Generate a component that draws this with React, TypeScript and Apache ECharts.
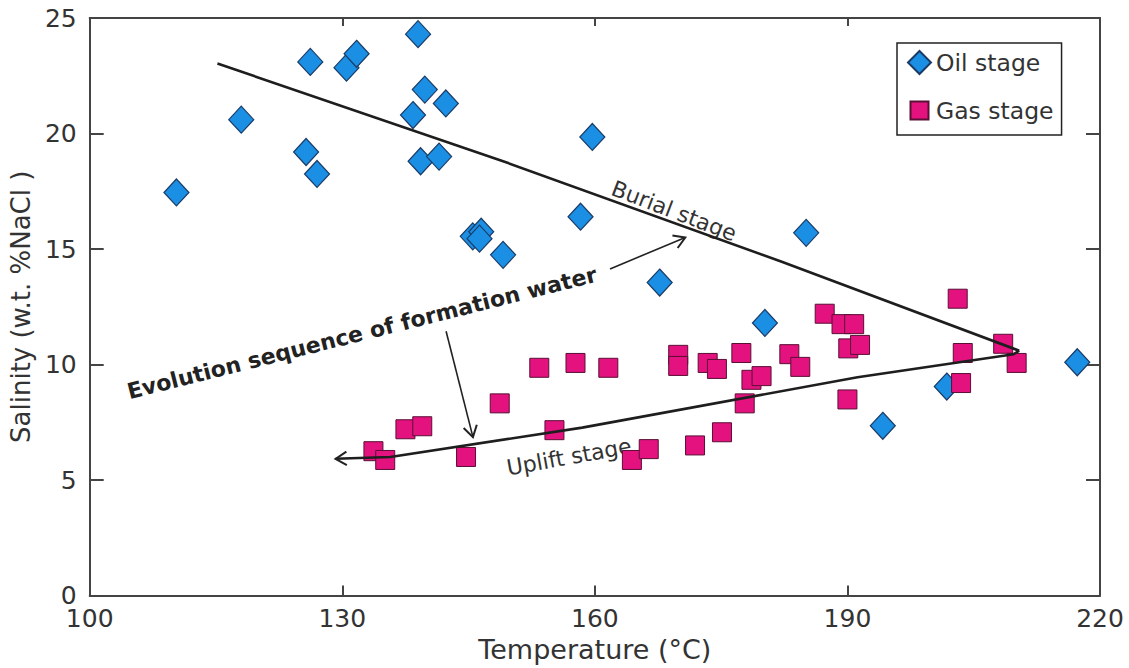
import React, { useEffect, useRef } from "react";
import * as echarts from "echarts";

// ---- data ----
const oilStage: number[][] = [
  [110.3, 17.45], [118.0, 20.6], [126.2, 23.1], [125.7, 19.2], [127.0, 18.25],
  [130.5, 22.85], [131.7, 23.45], [139.0, 24.3], [138.4, 20.8], [139.8, 21.9],
  [142.3, 21.3], [139.3, 18.8], [141.5, 19.0], [159.7, 19.85], [158.3, 16.4],
  [145.5, 15.55], [146.5, 15.75], [146.3, 15.45], [149.1, 14.75], [167.7, 13.55],
  [185.1, 15.7], [180.2, 11.8], [194.2, 7.35], [201.8, 9.05], [217.3, 10.1],
];

const gasStage: number[][] = [
  [133.7, 6.25], [135.1, 5.87], [137.5, 7.2], [139.5, 7.33], [144.7, 6.0],
  [148.7, 8.32], [153.4, 9.86], [155.2, 7.16], [157.7, 10.07], [161.6, 9.86],
  [164.4, 5.87], [166.4, 6.34], [169.9, 10.42], [169.9, 9.94], [171.9, 6.5],
  [173.4, 10.07], [174.5, 9.81], [175.1, 7.07], [177.4, 10.5], [177.8, 8.32],
  [178.6, 9.34], [179.8, 9.5], [183.1, 10.45], [184.4, 9.9], [187.3, 12.2],
  [189.3, 11.75], [190.8, 11.75], [190.1, 10.7], [191.5, 10.85], [190.0, 8.49],
  [203.1, 12.85], [203.7, 10.5], [203.5, 9.2], [208.5, 10.9], [210.1, 10.07],
];

const burialPath: number[][] = [
  [115.17, 23.03], [149.1, 18.8], [182.2, 14.45], [210.4, 10.6],
];
const upliftPath: number[][] = [
  [210.4, 10.6], [209.75, 10.45], [191.2, 9.45], [158.5, 7.27], [135.7, 6.0], [129.2, 5.92],
];
// [fromX, fromY, toX, toY, drawShaft]
const arrows: number[][] = [
  [161.8, 14.14, 170.74, 15.5, 1],
  [142.33, 11.44, 145.52, 6.86, 1],
  [135.7, 6.0, 129.2, 5.92, 0],
];

const xMin = 100, xMax = 220, xStep = 30;
const yMin = 0, yMax = 25, yStep = 5;

const seriesNames = ["Oil stage", "Gas stage"];
const xTitle = "Temperature (°C)";
const yTitle = "Salinity (w.t. %NaCl )";

const FONT = "DejaVu Sans";
const AXIS = "#444";
const TXT = "#333";

export default function App() {
  const ref = useRef<HTMLDivElement>(null);
  useEffect(() => {
    if (!ref.current) return;
    const chart = echarts.init(ref.current, undefined, { renderer: "svg" });

    const axisLine = { show: true, onZero: false, lineStyle: { color: AXIS, width: 2 } };
    const tick = (len: number) => ({
      show: true, inside: true, length: len, lineStyle: { color: AXIS, width: 2 },
    });

    const renderArrow = (params: any, api: any) => {
      const p1 = api.coord([api.value(0), api.value(1)]);
      const p2 = api.coord([api.value(2), api.value(3)]);
      const ang = Math.atan2(p2[1] - p1[1], p2[0] - p1[0]);
      const L = 13, W = 0.55;
      const a1 = [p2[0] - L * Math.cos(ang - W), p2[1] - L * Math.sin(ang - W)];
      const a2 = [p2[0] - L * Math.cos(ang + W), p2[1] - L * Math.sin(ang + W)];
      const children: any[] = [];
      if (api.value(4)) {
        children.push({
          type: "line",
          shape: { x1: p1[0], y1: p1[1], x2: p2[0], y2: p2[1] },
          style: { stroke: "#222", lineWidth: 1.6 },
        });
      }
      children.push({
        type: "polyline",
        shape: { points: [a1, p2, a2] },
        style: { stroke: "#222", lineWidth: 2, fill: null },
      });
      return { type: "group", children };
    };

    const option: any = {
      animation: false,
      backgroundColor: "#fff",
      grid: { left: 85, right: 29, top: 18, bottom: 68 },
      legend: {
        orient: "vertical",
        left: 897,
        top: 43,
        padding: [7, 8, 12, 10],
        itemGap: 23,
        itemWidth: 23,
        itemHeight: 23,
        itemTextGap: 21,
        borderColor: "#222",
        borderWidth: 1.5,
        borderRadius: 0,
        selectedMode: false,
        textStyle: { fontFamily: FONT, fontSize: 23.5, color: TXT, lineHeight: 23 },
        data: [
          { name: seriesNames[0], icon: "diamond" },
          { name: seriesNames[1], icon: "path://M0,0M23,23M2.5,2.5L20.5,2.5L20.5,20.5L2.5,20.5Z" },
        ],
      },
      xAxis: [
        {
          type: "value", min: xMin, max: xMax, interval: xStep, position: "bottom",
          name: xTitle, nameLocation: "middle", nameGap: 31,
          nameTextStyle: { fontFamily: FONT, fontSize: 27, color: TXT },
          axisLine, axisTick: tick(10),
          axisLabel: { fontFamily: FONT, fontSize: 25, color: TXT, margin: 12, lineHeight: 22 },
          splitLine: { show: false },
        },
        {
          type: "value", min: xMin, max: xMax, interval: xStep, position: "top",
          axisLine, axisTick: tick(8), axisLabel: { show: false }, splitLine: { show: false },
        },
      ],
      yAxis: [
        {
          type: "value", min: yMin, max: yMax, interval: yStep, position: "left",
          name: yTitle, nameLocation: "middle", nameGap: 44,
          nameTextStyle: { fontFamily: FONT, fontSize: 26, color: TXT },
          axisLine, axisTick: tick(14),
          axisLabel: { fontFamily: FONT, fontSize: 25, color: TXT, margin: 13, lineHeight: 20 },
          splitLine: { show: false },
        },
        {
          type: "value", min: yMin, max: yMax, interval: yStep, position: "right",
          axisLine, axisTick: tick(14), axisLabel: { show: false }, splitLine: { show: false },
        },
      ],
      series: [
        {
          name: seriesNames[0], type: "scatter", data: oilStage,
          symbol: "diamond", symbolSize: [25, 27], z: 2,
          itemStyle: { color: "#1a8fe3", borderColor: "#1b3b66", borderWidth: 1.2, opacity: 1 },
        },
        {
          name: seriesNames[1], type: "scatter", data: gasStage,
          symbol: "rect", symbolSize: 19, z: 2,
          itemStyle: { color: "#e3127f", borderColor: "#5a0f35", borderWidth: 1, opacity: 1 },
        },
        {
          name: "burial", type: "line", data: burialPath, symbol: "none", z: 5, silent: true,
          lineStyle: { color: "#1e1e1e", width: 2.6 },
        },
        {
          name: "uplift", type: "line", data: upliftPath, symbol: "none", z: 5, silent: true,
          lineStyle: { color: "#1e1e1e", width: 2.6 },
        },
        {
          name: "arrows", type: "custom", data: arrows, renderItem: renderArrow,
          encode: { x: [0, 2], y: [1, 3] }, z: 6, silent: true,
        },
      ],
      graphic: [
        {
          type: "text", x: 674, y: 211, rotation: -0.365, silent: true,
          style: { text: "Burial stage", fontFamily: FONT, fontSize: 22, fill: TXT, align: "center", verticalAlign: "middle" },
        },
        {
          type: "text", x: 569, y: 457, rotation: 0.178, silent: true,
          style: { text: "Uplift stage", fontFamily: FONT, fontSize: 22, fill: TXT, align: "center", verticalAlign: "middle" },
        },
        {
          type: "text", x: 362, y: 333, rotation: 0.246, silent: true,
          style: { text: "Evolution sequence of formation water", fontFamily: FONT, fontSize: 22, fontWeight: "bold", fill: "#222", align: "center", verticalAlign: "middle" },
        },
      ],
    };
    chart.setOption(option);
    return () => chart.dispose();
  }, []);
  return (
    <div
      ref={ref}
      style={{ position: "absolute", left: 0, top: 0, width: 1129, height: 668, background: "#fff" }}
    />
  );
}
